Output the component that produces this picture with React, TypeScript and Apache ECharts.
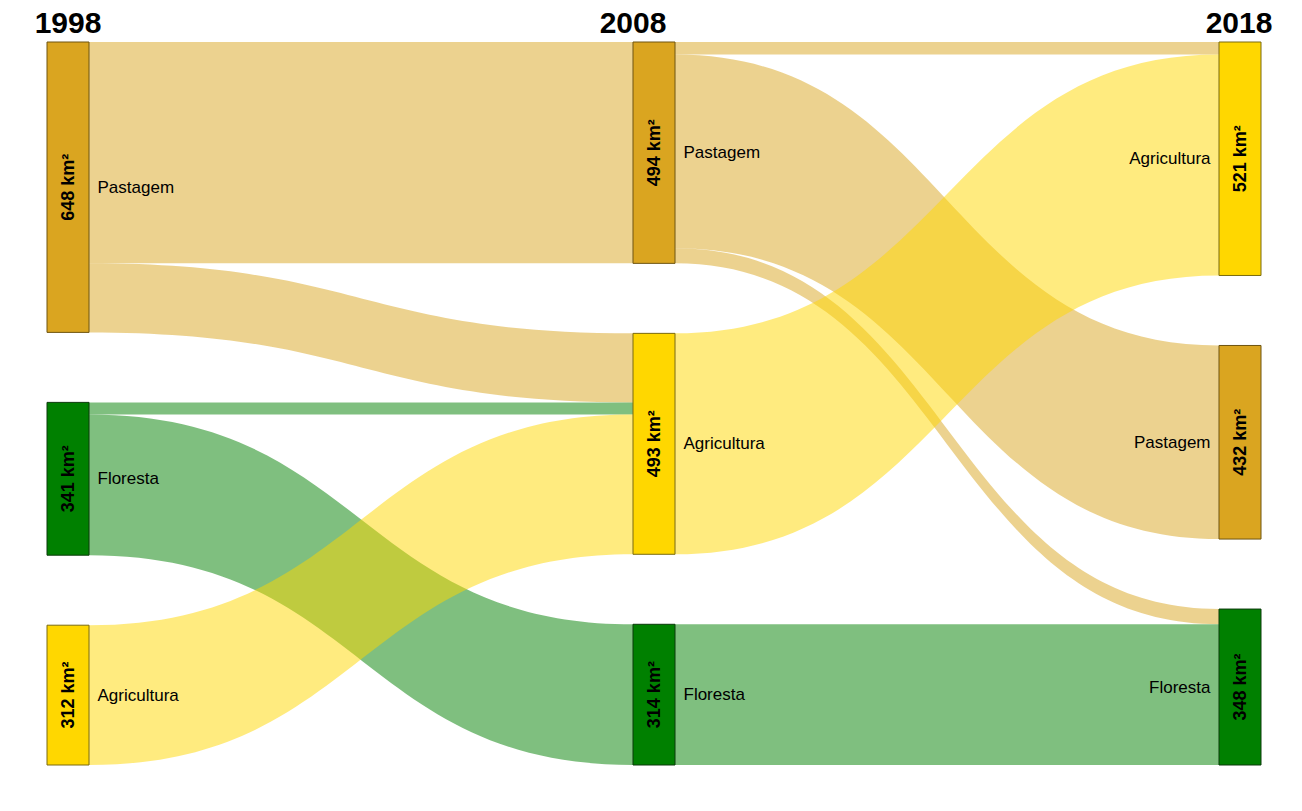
import React, { useEffect, useRef } from 'react';
import * as echarts from 'echarts';

const years = ['1998', '2008', '2018'];

// Nodes of each column, top to bottom, with their areas (km²)
const classes1998 = ['Pastagem', 'Floresta', 'Agricultura'];
const values1998 = [648, 341, 312];
const classes2008 = ['Pastagem', 'Agricultura', 'Floresta'];
const values2008 = [494, 493, 314];
const classes2018 = ['Agricultura', 'Pastagem', 'Floresta'];
const values2018 = [521, 432, 348];

// Flows: [from class, to class, km²]
const flows1998to2008: [string, string, number][] = [
  ['Pastagem', 'Pastagem', 494],
  ['Pastagem', 'Agricultura', 154],
  ['Floresta', 'Agricultura', 27],
  ['Floresta', 'Floresta', 314],
  ['Agricultura', 'Agricultura', 312],
];
const flows2008to2018: [string, string, number][] = [
  ['Pastagem', 'Pastagem', 432],
  ['Pastagem', 'Agricultura', 28],
  ['Pastagem', 'Floresta', 34],
  ['Agricultura', 'Agricultura', 493],
  ['Floresta', 'Floresta', 314],
];

const classColors: Record<string, string> = {
  Pastagem: '#DAA520',
  Agricultura: '#FFD700',
  Floresta: '#008000',
};
const classBorders: Record<string, string> = {
  Pastagem: '#6e5410',
  Agricultura: '#7a6a10',
  Floresta: '#0b3a0b',
};

const FONT = "'Liberation Sans', Arial, Helvetica, sans-serif";

export default function App() {
  const ref = useRef<HTMLDivElement>(null);

  useEffect(() => {
    document.body.style.margin = '0';
    if (!ref.current) return;
    const chart = echarts.init(ref.current, null, { renderer: 'svg' });

    const columns = [
      { year: years[0], classes: classes1998, values: values1998 },
      { year: years[1], classes: classes2008, values: values2008 },
      { year: years[2], classes: classes2018, values: values2018 },
    ];

    const nodesMain: any[] = [];
    const nodesOverlay: any[] = [];
    columns.forEach((col, ci) => {
      col.classes.forEach((c, i) => {
        const name = `${c} ${col.year}`;
        nodesMain.push({
          name,
          value: col.values[i],
          itemStyle: {
            color: classColors[c],
            borderColor: classBorders[c],
            borderWidth: 1,
          },
          label: ci === 2 ? { position: 'left' } : { position: 'right' },
        });
        nodesOverlay.push({
          name,
          value: col.values[i],
          itemStyle: { color: 'rgba(0,0,0,0)', borderWidth: 0 },
        });
      });
    });

    const links: any[] = [];
    flows1998to2008.forEach(([a, b, v]) =>
      links.push({ source: `${a} ${years[0]}`, target: `${b} ${years[1]}`, value: v })
    );
    flows2008to2018.forEach(([a, b, v]) =>
      links.push({ source: `${a} ${years[1]}`, target: `${b} ${years[2]}`, value: v })
    );

    const base = {
      type: 'sankey',
      left: 47,
      right: 41,
      top: 42,
      bottom: 46,
      nodeWidth: 42,
      nodeGap: 70,
      layoutIterations: 0,
      nodeAlign: 'justify',
      draggable: false,
      emphasis: { disabled: true },
    };

    const option: any = {
      animation: false,
      backgroundColor: '#ffffff',
      textStyle: { fontFamily: FONT },
      graphic: [
        { type: 'text', x: 68, y: 22, style: { text: years[0], font: `bold 30px ${FONT}`, fill: '#000', align: 'center', verticalAlign: 'middle' } },
        { type: 'text', x: 633, y: 22, style: { text: years[1], font: `bold 30px ${FONT}`, fill: '#000', align: 'center', verticalAlign: 'middle' } },
        { type: 'text', x: 1239, y: 22, style: { text: years[2], font: `bold 30px ${FONT}`, fill: '#000', align: 'center', verticalAlign: 'middle' } },
      ],
      series: [
        {
          ...base,
          data: nodesMain,
          links: links,
          lineStyle: { color: 'source', opacity: 0.5, curveness: 0.5 },
          label: {
            show: true,
            distance: 8,
            color: '#000',
            fontSize: 17,
            fontFamily: FONT,
            formatter: (p: any) => String(p.name).split(' ')[0],
          },
        },
        {
          ...base,
          silent: true,
          data: nodesOverlay,
          links: links.map((l) => ({ ...l })),
          lineStyle: { color: 'source', opacity: 0, curveness: 0.5 },
          label: {
            show: true,
            position: 'inside',
            rotate: 90,
            color: '#000',
            fontSize: 18,
            fontWeight: 'bold',
            fontFamily: FONT,
            formatter: (p: any) => `${p.value} km²`,
          },
        },
      ],
    };

    chart.setOption(option);
    return () => chart.dispose();
  }, []);

  return <div ref={ref} style={{ width: 1302, height: 811 }} />;
}
